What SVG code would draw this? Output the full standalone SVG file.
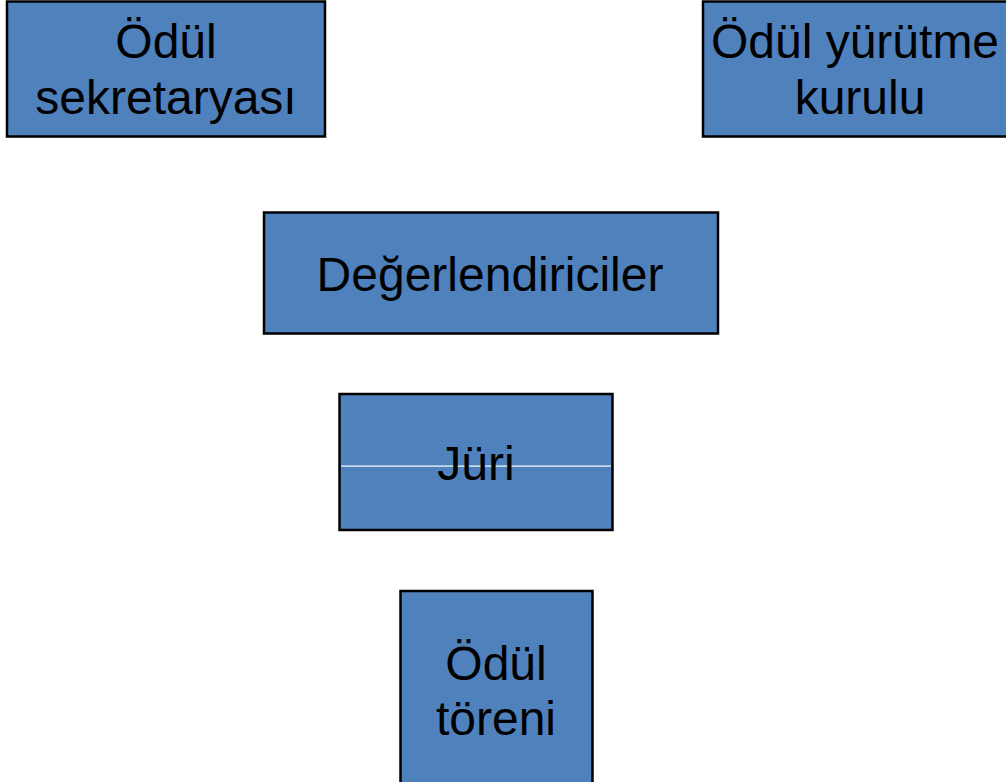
<svg xmlns="http://www.w3.org/2000/svg" width="1006" height="782" viewBox="0 0 1006 782">
<style>
.box{fill:#4F81BD;stroke:#000;stroke-width:2.5}
.t{font-family:"Liberation Sans",Arial,sans-serif;font-size:48px;fill:#000;text-anchor:middle}
</style>
<rect width="1006" height="782" fill="#fff"/>
<g id="connectors"></g>
<g id="sekretarya">
<rect class="box" x="7" y="1.5" width="318" height="135"/>
<text class="t" x="166" y="58">Ödül</text>
<text class="t" x="166" y="114">sekretaryası</text>
</g>
<g id="yurutme">
<rect class="box" x="703" y="1.5" width="306" height="135"/>
<text class="t" x="855" y="58">Ödül yürütme</text>
<text class="t" x="860" y="114">kurulu</text>
</g>
<g id="degerlendiriciler">
<rect class="box" x="264" y="212.5" width="454" height="121"/>
<text class="t" x="490" y="291">Değerlendiriciler</text>
</g>
<g id="juri">
<rect class="box" x="339.5" y="394" width="273" height="136"/>
<rect x="341" y="465.5" width="270" height="1.2" fill="#fff"/>
<text class="t" x="476" y="480">Jüri</text>
</g>
<g id="toren">
<rect class="box" x="400.5" y="591" width="192" height="200"/>
<text class="t" x="496" y="680">Ödül</text>
<text class="t" x="496" y="735">töreni</text>
</g>
</svg>
